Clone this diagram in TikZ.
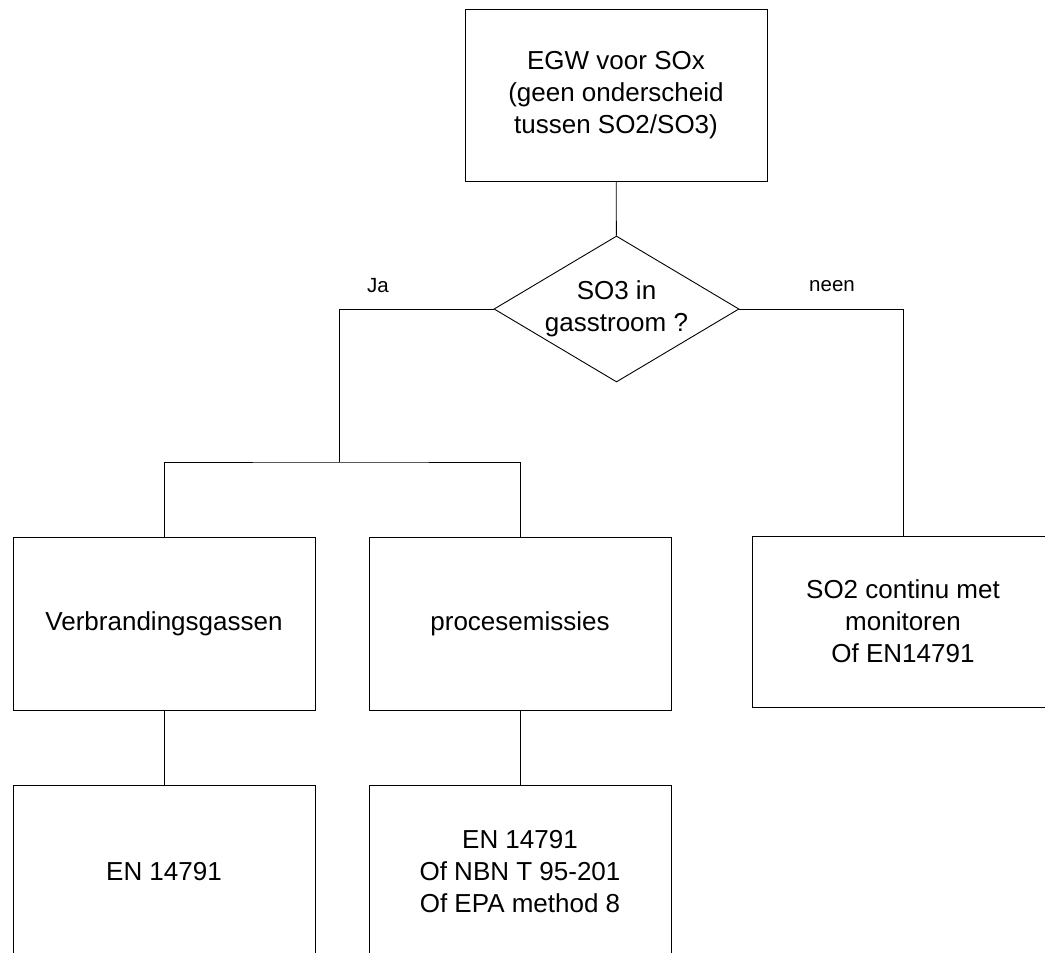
\documentclass[tikz,border=0pt]{standalone}
\usepackage{fontspec}
\setmainfont{Liberation Sans}
\usetikzlibrary{shapes.geometric}
\tikzset{
  box/.style={draw, rectangle, minimum width=302, minimum height=172, inner sep=0, align=center,
    font=\fontsize{26}{32}\selectfont},
  decision/.style={draw, diamond, minimum width=245, minimum height=146, inner sep=0},
  lbl/.style={font=\fontsize{20.5}{24}\selectfont, inner sep=0},
  conn/.style={draw, line width=0.9pt}
}
\begin{document}
\begin{tikzpicture}[x=1pt,y=-1pt, line width=0.9pt]
\clip (0,0) rectangle (1045,953);
\fill[white] (0,0) rectangle (1045,953);
\node[box] (top) at (616,95) {EGW voor SOx\\(geen onderscheid\\tussen SO2/SO3)};
\node[decision, label={[font=\fontsize{26}{32}\selectfont, align=center]center:SO3 in\\gasstroom ?}] (q) at (616.5,309) {};
\node[box, minimum height=173] (vb) at (164,623.5) {Verbrandingsgassen};
\node[box, minimum height=173] (pe) at (520,623.5) {procesemissies};
\node[box, minimum height=171] (so2) at (903,621.5) {SO2 continu met\\monitoren\\Of EN14791};
\node[box, minimum height=173] (en) at (164,871.5) {EN 14791};
\node[box, minimum height=173] (alt) at (520,871.5) {EN 14791\\Of NBN T 95-201\\Of EPA method 8};
\node[lbl] (ja) at (378,286) {Ja};
\node[lbl] (neen) at (832,286) {neen};
\coordinate (split) at (339,462);
\draw (top) -- (q);
\draw (q.west) -| (split);
\draw (vb.north) |- (split) -| (pe.north);
\draw (q.east) -| (so2.north);
\draw (vb) -- (en);
\draw (pe) -- (alt);
\end{tikzpicture}
\end{document}
